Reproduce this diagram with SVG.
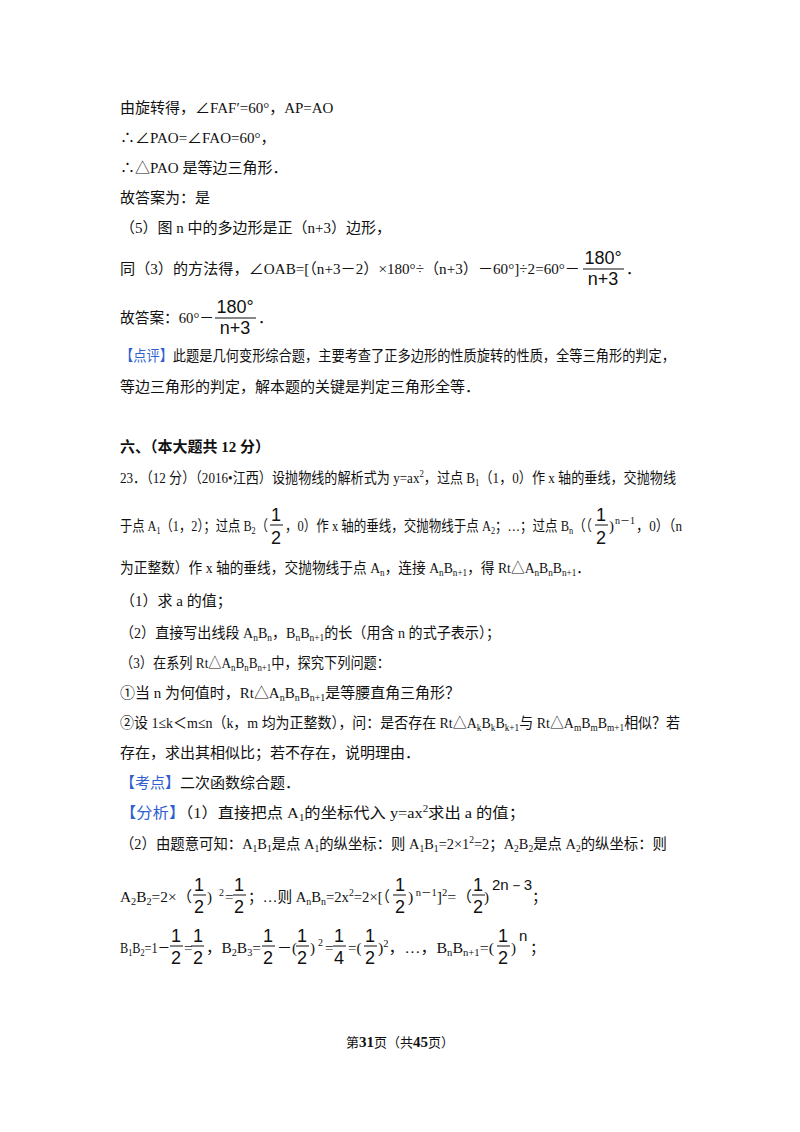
<svg xmlns="http://www.w3.org/2000/svg" width="800" height="1132" viewBox="0 0 800 1132">
<style>
text{font-family:"Liberation Serif","Noto Sans CJK SC",serif;font-size:15px;fill:#111}
.b{fill:#2f5fd0}
.s{font-size:10px}
.f{font-family:"Liberation Sans","Noto Sans CJK SC",sans-serif;font-size:18px;text-anchor:middle}
.g{font-family:"Liberation Sans",sans-serif;font-size:15px}
.h{font-weight:bold}
line{stroke:#111;stroke-width:1}
</style>
<rect width="800" height="1132" fill="#fff"/>
<text x="120" y="113">由旋转得，∠FAF′=60°，AP=AO</text>
<text x="120" y="143">∴∠PAO=∠FAO=60°，</text>
<text x="120" y="173">∴△PAO 是等边三角形．</text>
<text x="120" y="203">故答案为：是</text>
<text x="120" y="233">（5）图 n 中的多边形是正（n+3）边形，</text>
<text x="120" y="274" textLength="460" lengthAdjust="spacingAndGlyphs">同（3）的方法得，∠OAB=[（n+3－2）×180°÷（n+3）－60°]÷2=60°－</text>
<text x="603" y="264" class="f">180°</text><line x1="583" y1="269" x2="624" y2="269"/><text x="603" y="285" class="f">n+3</text><text x="626" y="274">．</text>
<text x="120" y="323" textLength="94" lengthAdjust="spacingAndGlyphs">故答案：60°－</text>
<text x="235" y="313" class="f">180°</text><line x1="215" y1="318" x2="256" y2="318"/><text x="235" y="334" class="f">n+3</text><text x="258" y="323">．</text>
<text x="120" y="361" textLength="555" lengthAdjust="spacingAndGlyphs"><tspan class="b">【点评】</tspan>此题是几何变形综合题，主要考查了正多边形的性质旋转的性质，全等三角形的判定，</text>
<text x="120" y="392">等边三角形的判定，解本题的关键是判定三角形全等．</text>
<text x="120" y="452" class="h">六、（本大题共 12 分）</text>
<text x="120" y="483" textLength="556" lengthAdjust="spacingAndGlyphs">23．（12 分）（2016•江西）设抛物线的解析式为 y=ax<tspan class="s" dy="-6">2</tspan><tspan dy="6">，过点 B</tspan><tspan class="s" dy="3">1</tspan><tspan dy="-3">（1，0）作 x 轴的垂线，交抛物线</tspan></text>
<g id="l0">
<text x="120" y="531" textLength="148" lengthAdjust="spacingAndGlyphs">于点 A<tspan class="s" dy="3">1</tspan><tspan dy="-3">（1，2）；过点 B</tspan><tspan class="s" dy="3">2</tspan><tspan dy="-3">（</tspan></text>
<text x="276" y="521" class="f">1</text><line x1="270" y1="525" x2="283" y2="525"/><text x="276" y="544" class="f">2</text>
<text x="285" y="531" textLength="307" lengthAdjust="spacingAndGlyphs">，0）作 x 轴的垂线，交抛物线于点 A<tspan class="s" dy="3">2</tspan><tspan dy="-3">；…；过点 B</tspan><tspan class="s" dy="3">n</tspan><tspan dy="-3">（（</tspan></text>
<text x="601" y="521" class="f">1</text><line x1="595" y1="525" x2="608" y2="525"/><text x="601" y="544" class="f">2</text>
<text x="609" y="531">)</text><text x="615" y="524" class="s">n－1</text>
<text x="636" y="531" textLength="46" lengthAdjust="spacingAndGlyphs">，0）（n</text>
</g>
<text x="120" y="573" textLength="470" lengthAdjust="spacingAndGlyphs">为正整数）作 x 轴的垂线，交抛物线于点 A<tspan class="s" dy="3">n</tspan><tspan dy="-3">，连接 A</tspan><tspan class="s" dy="3">n</tspan><tspan dy="-3">B</tspan><tspan class="s" dy="3">n+1</tspan><tspan dy="-3">，得 Rt△A</tspan><tspan class="s" dy="3">n</tspan><tspan dy="-3">B</tspan><tspan class="s" dy="3">n</tspan><tspan dy="-3">B</tspan><tspan class="s" dy="3">n+1</tspan><tspan dy="-3">．</tspan></text>
<text x="120" y="606">（1）求 a 的值；</text>
<text x="120" y="638" textLength="380" lengthAdjust="spacingAndGlyphs">（2）直接写出线段 A<tspan class="s" dy="3">n</tspan><tspan dy="-3">B</tspan><tspan class="s" dy="3">n</tspan><tspan dy="-3">，B</tspan><tspan class="s" dy="3">n</tspan><tspan dy="-3">B</tspan><tspan class="s" dy="3">n+1</tspan><tspan dy="-3">的长（用含 n 的式子表示）；</tspan></text>
<text x="120" y="668" textLength="270" lengthAdjust="spacingAndGlyphs">（3）在系列 Rt△A<tspan class="s" dy="3">n</tspan><tspan dy="-3">B</tspan><tspan class="s" dy="3">n</tspan><tspan dy="-3">B</tspan><tspan class="s" dy="3">n+1</tspan><tspan dy="-3">中，探究下列问题：</tspan></text>
<text x="120" y="698" textLength="340" lengthAdjust="spacingAndGlyphs">①当 n 为何值时，Rt△A<tspan class="s" dy="3">n</tspan><tspan dy="-3">B</tspan><tspan class="s" dy="3">n</tspan><tspan dy="-3">B</tspan><tspan class="s" dy="3">n+1</tspan><tspan dy="-3">是等腰直角三角形？</tspan></text>
<text x="120" y="728" textLength="560" lengthAdjust="spacingAndGlyphs">②设 1≤k＜m≤n（k，m 均为正整数），问：是否存在 Rt△A<tspan class="s" dy="3">k</tspan><tspan dy="-3">B</tspan><tspan class="s" dy="3">k</tspan><tspan dy="-3">B</tspan><tspan class="s" dy="3">k+1</tspan><tspan dy="-3">与 Rt△A</tspan><tspan class="s" dy="3">m</tspan><tspan dy="-3">B</tspan><tspan class="s" dy="3">m</tspan><tspan dy="-3">B</tspan><tspan class="s" dy="3">m+1</tspan><tspan dy="-3">相似？若</tspan></text>
<text x="120" y="758">存在，求出其相似比；若不存在，说明理由．</text>
<text x="120" y="788"><tspan class="b">【考点】</tspan>二次函数综合题．</text>
<text x="120" y="818" textLength="405" lengthAdjust="spacingAndGlyphs"><tspan class="b">【分析】</tspan>（1）直接把点 A<tspan class="s" dy="3">1</tspan><tspan dy="-3">的坐标代入 y=ax</tspan><tspan class="s" dy="-6">2</tspan><tspan dy="6">求出 a 的值；</tspan></text>
<text x="120" y="849" textLength="547" lengthAdjust="spacingAndGlyphs">（2）由题意可知：A<tspan class="s" dy="3">1</tspan><tspan dy="-3">B</tspan><tspan class="s" dy="3">1</tspan><tspan dy="-3">是点 A</tspan><tspan class="s" dy="3">1</tspan><tspan dy="-3">的纵坐标：则 A</tspan><tspan class="s" dy="3">1</tspan><tspan dy="-3">B</tspan><tspan class="s" dy="3">1</tspan><tspan dy="-3">=2×1</tspan><tspan class="s" dy="-6">2</tspan><tspan dy="6">=2；A</tspan><tspan class="s" dy="3">2</tspan><tspan dy="-3">B</tspan><tspan class="s" dy="3">2</tspan><tspan dy="-3">是点 A</tspan><tspan class="s" dy="3">2</tspan><tspan dy="-3">的纵坐标：则</tspan></text>
<g id="l1">
<text x="120" y="902" textLength="72" lengthAdjust="spacingAndGlyphs">A<tspan class="s" dy="3">2</tspan><tspan dy="-3">B</tspan><tspan class="s" dy="3">2</tspan><tspan dy="-3">=2×（</tspan></text>
<text x="199" y="891" class="f">1</text><line x1="193" y1="895" x2="206" y2="895"/><text x="199" y="913" class="f">2</text>
<text x="207" y="902">)</text><text x="219" y="896" class="s">2</text><text x="225" y="902">=</text>
<text x="239" y="891" class="f">1</text><line x1="233" y1="895" x2="246" y2="895"/><text x="239" y="913" class="f">2</text>
<text x="248" y="902" textLength="142" lengthAdjust="spacingAndGlyphs">；…则 A<tspan class="s" dy="3">n</tspan><tspan dy="-3">B</tspan><tspan class="s" dy="3">n</tspan><tspan dy="-3">=2x</tspan><tspan class="s" dy="-6">2</tspan><tspan dy="6">=2×[（</tspan></text>
<text x="400" y="891" class="f">1</text><line x1="393" y1="895" x2="406" y2="895"/><text x="400" y="913" class="f">2</text>
<text x="408" y="902" textLength="64" lengthAdjust="spacingAndGlyphs">)<tspan class="s" dy="-6"> n－1</tspan><tspan dy="6">]</tspan><tspan class="s" dy="-6">2</tspan><tspan dy="6">=（</tspan></text>
<text x="478" y="891" class="f">1</text><line x1="472" y1="895" x2="485" y2="895"/><text x="478" y="913" class="f">2</text>
<text x="484" y="902">)</text><text x="492" y="890" class="g">2n－3</text><text x="532" y="902">；</text>
</g>
<g id="l2">
<text x="120" y="953" textLength="50" lengthAdjust="spacingAndGlyphs">B<tspan class="s" dy="3">1</tspan><tspan dy="-3">B</tspan><tspan class="s" dy="3">2</tspan><tspan dy="-3">=1－</tspan></text>
<text x="176" y="942" class="f">1</text><line x1="170" y1="946" x2="183" y2="946"/><text x="176" y="964" class="f">2</text>
<text x="184" y="953">=</text>
<text x="198" y="942" class="f">1</text><line x1="191" y1="946" x2="204" y2="946"/><text x="198" y="964" class="f">2</text>
<text x="206" y="953" textLength="55" lengthAdjust="spacingAndGlyphs">，B<tspan class="s" dy="3">2</tspan><tspan dy="-3">B</tspan><tspan class="s" dy="3">3</tspan><tspan dy="-3">=</tspan></text>
<text x="268" y="942" class="f">1</text><line x1="262" y1="946" x2="275" y2="946"/><text x="268" y="964" class="f">2</text>
<text x="277" y="953">－(</text>
<text x="302" y="942" class="f">1</text><line x1="296" y1="946" x2="309" y2="946"/><text x="302" y="964" class="f">2</text>
<text x="310" y="953">)</text><text x="318" y="946" class="s">2</text><text x="325" y="953">=</text>
<text x="339" y="942" class="f">1</text><line x1="333" y1="946" x2="346" y2="946"/><text x="339" y="964" class="f">4</text>
<text x="348" y="953">=(</text>
<text x="370" y="942" class="f">1</text><line x1="364" y1="946" x2="377" y2="946"/><text x="370" y="964" class="f">2</text>
<text x="378" y="953" textLength="116" lengthAdjust="spacingAndGlyphs">)<tspan class="s" dy="-6">2</tspan><tspan dy="6">，…，B</tspan><tspan class="s" dy="3">n</tspan><tspan dy="-3">B</tspan><tspan class="s" dy="3">n+1</tspan><tspan dy="-3">=(</tspan></text>
<text x="503" y="942" class="f">1</text><line x1="497" y1="946" x2="510" y2="946"/><text x="503" y="964" class="f">2</text>
<text x="511" y="953">)</text><text x="519" y="941" class="g">n</text><text x="530" y="953">；</text>
</g>
<text x="400" y="1047" text-anchor="middle" style="font-size:13px">第<tspan class="h" style="font-size:15px">31</tspan>页（共<tspan class="h" style="font-size:15px">45</tspan>页）</text>
</svg>
